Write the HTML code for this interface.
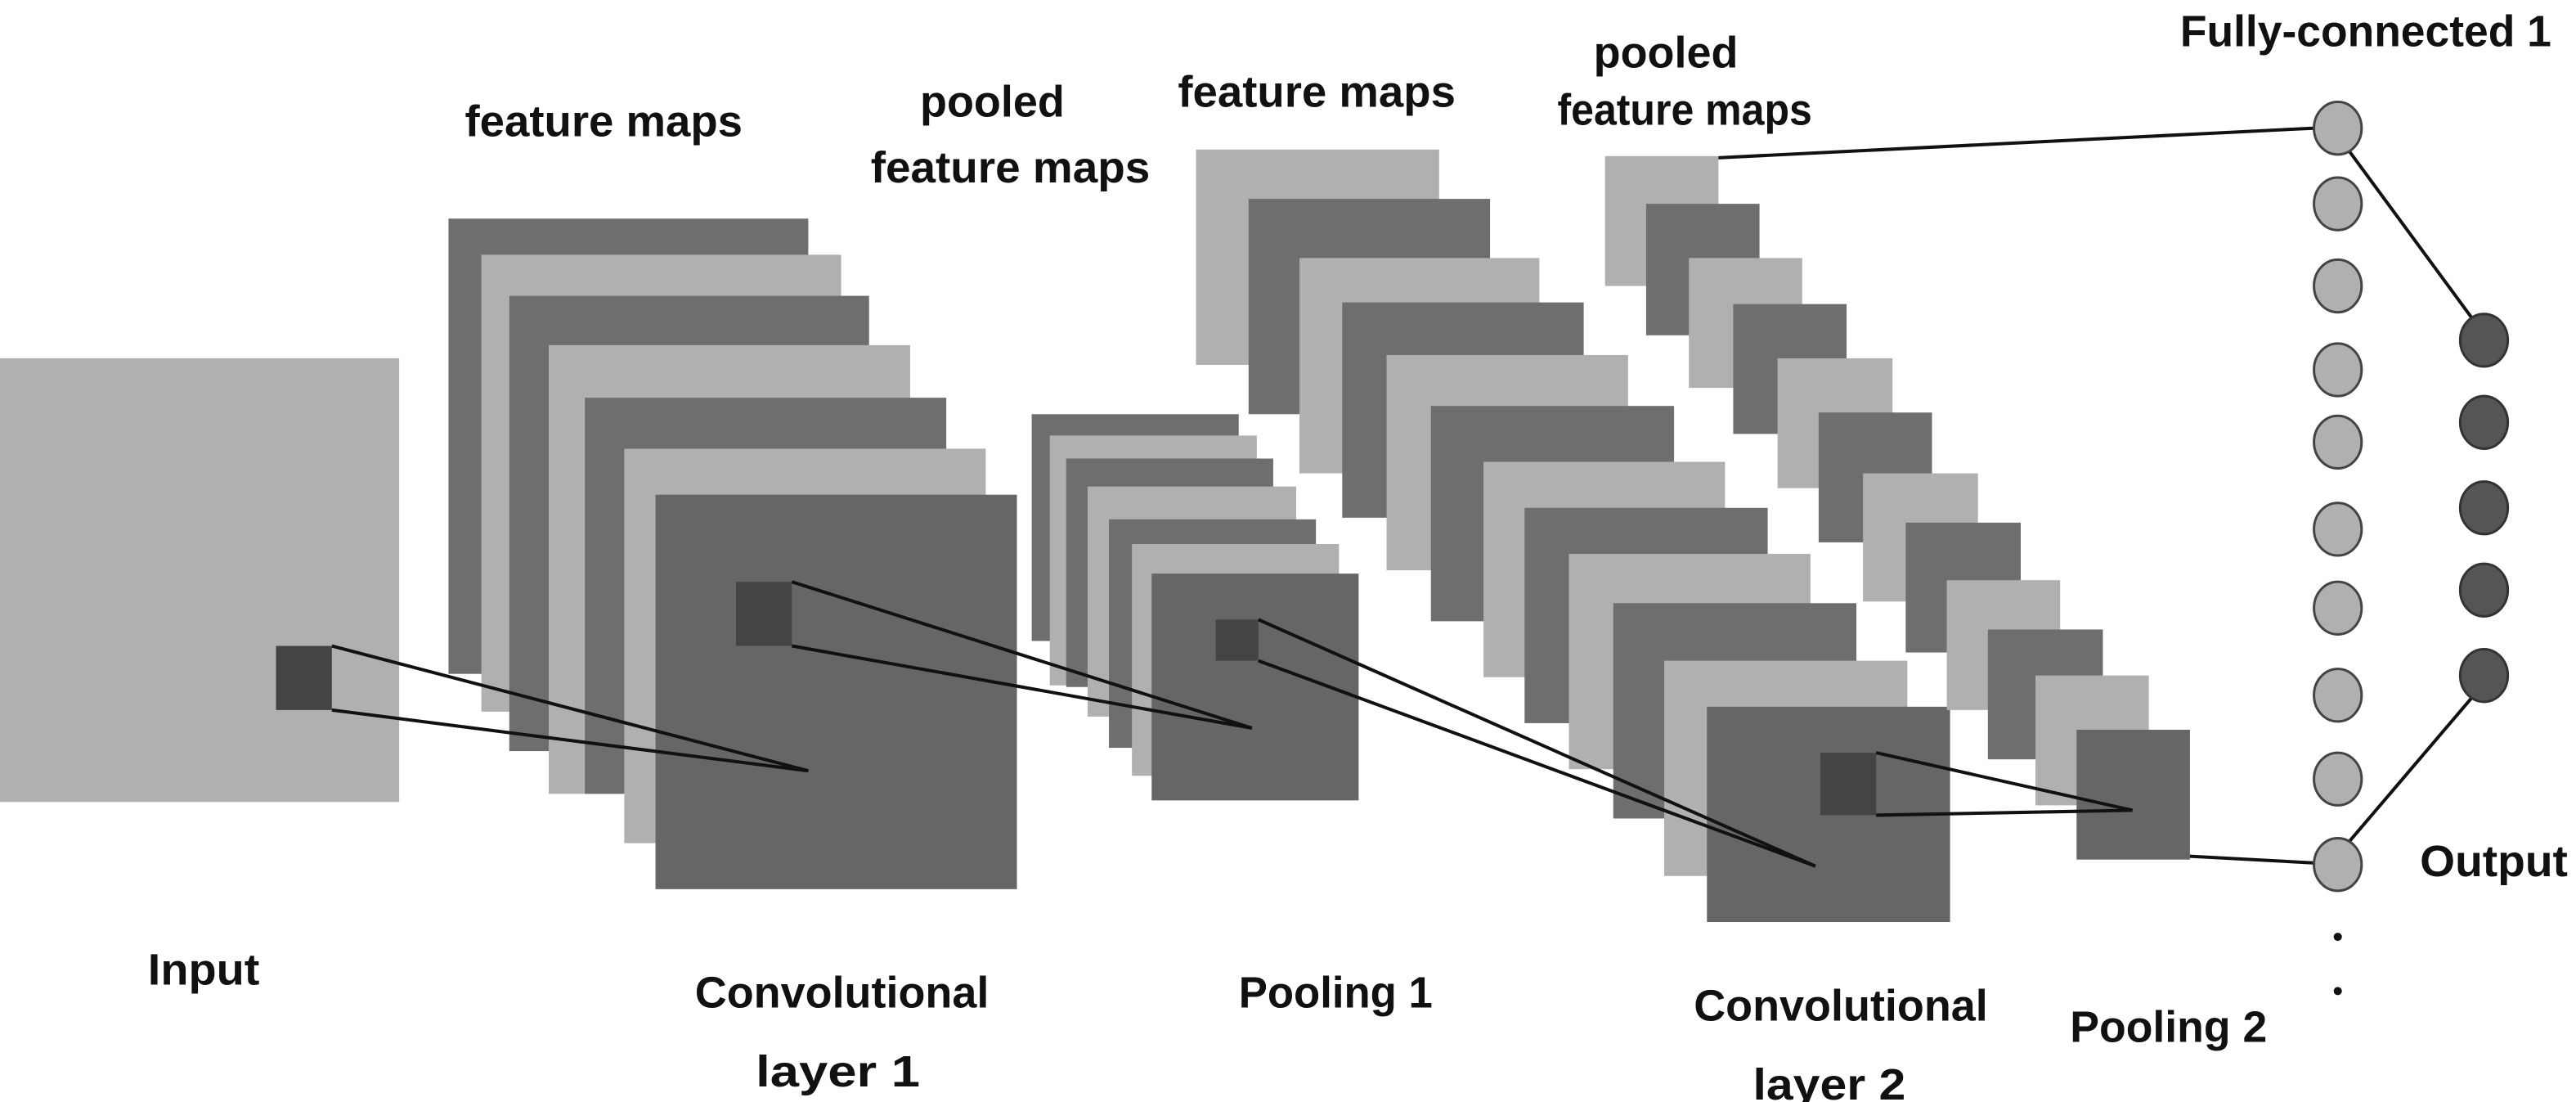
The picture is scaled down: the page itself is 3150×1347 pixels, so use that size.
<!DOCTYPE html>
<html><head><meta charset="utf-8"><style>
html,body{margin:0;padding:0;background:#fff;}
svg{display:block;}
text{font-family:"Liberation Sans",sans-serif;font-weight:bold;font-size:27px;fill:#111;}
</style></head><body>
<svg width="3150" height="1347" viewBox="0 0 1568 670.5" preserveAspectRatio="none" xmlns="http://www.w3.org/2000/svg">
<rect width="1568" height="670.5" fill="#fff"/>
<!-- Input -->
<rect x="0" y="218" width="243" height="270" fill="#b0b0b0"/>
<rect x="168" y="393" width="34" height="39" fill="#444"/>
<!-- Conv1 stack -->
<g>
<rect x="273" y="133" width="219" height="277" fill="#6e6e6e"/>
<rect x="293" y="155" width="219" height="278" fill="#b0b0b0"/>
<rect x="310" y="180" width="219" height="277" fill="#6e6e6e"/>
<rect x="334" y="210" width="220" height="273" fill="#b0b0b0"/>
<rect x="356" y="242" width="220" height="241" fill="#6e6e6e"/>
<rect x="380" y="273" width="220" height="240" fill="#b0b0b0"/>
<rect x="399" y="301" width="220" height="240" fill="#666"/>
</g>
<rect x="448" y="354" width="34" height="39" fill="#444"/>
<!-- Pool1 stack -->
<rect x="628" y="252" width="126" height="138" fill="#6e6e6e"/>
<rect x="639" y="265" width="126" height="152" fill="#b0b0b0"/>
<rect x="649" y="279" width="126" height="139" fill="#6e6e6e"/>
<rect x="662" y="296" width="127" height="140" fill="#b0b0b0"/>
<rect x="675" y="316" width="126" height="139" fill="#6e6e6e"/>
<rect x="689" y="331" width="126" height="141" fill="#b0b0b0"/>
<rect x="701" y="349" width="126" height="138" fill="#666"/>
<rect x="740" y="377" width="26" height="25" fill="#444"/>
<!-- Conv2 stack -->
<rect x="728" y="91" width="148" height="131" fill="#b0b0b0"/>
<rect x="760" y="121" width="147" height="131" fill="#6e6e6e"/>
<rect x="791" y="157" width="146" height="131" fill="#b0b0b0"/>
<rect x="817" y="184" width="147" height="131" fill="#6e6e6e"/>
<rect x="844" y="216" width="147" height="131" fill="#b0b0b0"/>
<rect x="871" y="247" width="148" height="131" fill="#6e6e6e"/>
<rect x="903" y="281" width="147" height="131" fill="#b0b0b0"/>
<rect x="928" y="309" width="148" height="131" fill="#6e6e6e"/>
<rect x="955" y="337" width="147" height="131" fill="#b0b0b0"/>
<rect x="982" y="367" width="148" height="131" fill="#6e6e6e"/>
<rect x="1013" y="402" width="148" height="131" fill="#b0b0b0"/>
<rect x="1039" y="430" width="148" height="131" fill="#666"/>
<rect x="1108" y="458" width="34" height="38" fill="#444"/>
<!-- Pool2 stack -->
<rect x="977" y="95" width="69" height="79" fill="#b0b0b0"/>
<rect x="1002" y="124" width="69" height="80" fill="#6e6e6e"/>
<rect x="1028" y="157" width="69" height="79" fill="#b0b0b0"/>
<rect x="1055" y="185" width="69" height="79" fill="#6e6e6e"/>
<rect x="1082" y="218" width="70" height="79" fill="#b0b0b0"/>
<rect x="1107" y="251" width="69" height="79" fill="#6e6e6e"/>
<rect x="1134" y="288" width="70" height="78" fill="#b0b0b0"/>
<rect x="1160" y="318" width="70" height="79" fill="#6e6e6e"/>
<rect x="1185" y="353" width="69" height="79" fill="#b0b0b0"/>
<rect x="1210" y="383" width="70" height="79" fill="#6e6e6e"/>
<rect x="1239" y="411" width="69" height="79" fill="#b0b0b0"/>
<rect x="1264" y="444" width="69" height="79" fill="#666"/>
<!-- connector lines -->
<g stroke="#111" stroke-width="2" fill="none">
<line x1="202" y1="393" x2="492" y2="469"/>
<line x1="202" y1="432" x2="492" y2="469"/>
<line x1="482" y1="354" x2="762" y2="443"/>
<line x1="482" y1="393" x2="762" y2="443"/>
<line x1="766" y1="377" x2="1105" y2="527"/>
<line x1="766" y1="402" x2="1105" y2="527"/>
<line x1="1142" y1="458" x2="1298" y2="493"/>
<line x1="1142" y1="496" x2="1298" y2="493"/>
<line x1="1046" y1="96" x2="1408" y2="78"/>
<line x1="1430" y1="92" x2="1505" y2="194"/>
<line x1="1333" y1="521" x2="1408" y2="525"/>
<line x1="1430" y1="512" x2="1505" y2="424"/>
</g>
<!-- FC circles -->
<g fill="#b0b0b0" stroke="#444" stroke-width="1.5">
<ellipse cx="1423" cy="78" rx="14.5" ry="16"/>
<ellipse cx="1423" cy="124" rx="14.5" ry="16"/>
<ellipse cx="1423" cy="174" rx="14.5" ry="16"/>
<ellipse cx="1423" cy="225" rx="14.5" ry="16"/>
<ellipse cx="1423" cy="269" rx="14.5" ry="16"/>
<ellipse cx="1423" cy="322" rx="14.5" ry="16"/>
<ellipse cx="1423" cy="370" rx="14.5" ry="16"/>
<ellipse cx="1423" cy="423" rx="14.5" ry="16"/>
<ellipse cx="1423" cy="474" rx="14.5" ry="16"/>
<ellipse cx="1423" cy="526" rx="14.5" ry="16"/>
</g>
<circle cx="1423" cy="570" r="2.5" fill="#111"/>
<circle cx="1423" cy="603" r="2.5" fill="#111"/>
<g fill="#555" stroke="#333" stroke-width="1.5">
<ellipse cx="1512" cy="207" rx="14.5" ry="16"/>
<ellipse cx="1512" cy="257" rx="14.5" ry="16"/>
<ellipse cx="1512" cy="309" rx="14.5" ry="16"/>
<ellipse cx="1512" cy="359" rx="14.5" ry="16"/>
<ellipse cx="1512" cy="411" rx="14.5" ry="16"/>
</g>
<!-- labels -->
<text x="283" y="83" textLength="169" lengthAdjust="spacingAndGlyphs">feature maps</text>
<text x="560" y="71" textLength="88" lengthAdjust="spacingAndGlyphs">pooled</text>
<text x="530" y="111" textLength="170" lengthAdjust="spacingAndGlyphs">feature maps</text>
<text x="717" y="65" textLength="169" lengthAdjust="spacingAndGlyphs">feature maps</text>
<text x="970" y="41" textLength="88" lengthAdjust="spacingAndGlyphs">pooled</text>
<text x="948" y="76" textLength="155" lengthAdjust="spacingAndGlyphs">feature maps</text>
<text x="1327" y="28" textLength="226" lengthAdjust="spacingAndGlyphs">Fully-connected 1</text>
<text x="90" y="599" textLength="68" lengthAdjust="spacingAndGlyphs">Input</text>
<text x="423" y="613" textLength="179" lengthAdjust="spacingAndGlyphs">Convolutional</text>
<text x="460" y="661" textLength="100" lengthAdjust="spacingAndGlyphs">layer 1</text>
<text x="754" y="613" textLength="118" lengthAdjust="spacingAndGlyphs">Pooling 1</text>
<text x="1031" y="621" textLength="179" lengthAdjust="spacingAndGlyphs">Convolutional</text>
<text x="1067" y="669" textLength="93" lengthAdjust="spacingAndGlyphs">layer 2</text>
<text x="1260" y="634" textLength="120" lengthAdjust="spacingAndGlyphs">Pooling 2</text>
<text x="1473" y="533" textLength="90" lengthAdjust="spacingAndGlyphs">Output</text>
</svg>
</body></html>
